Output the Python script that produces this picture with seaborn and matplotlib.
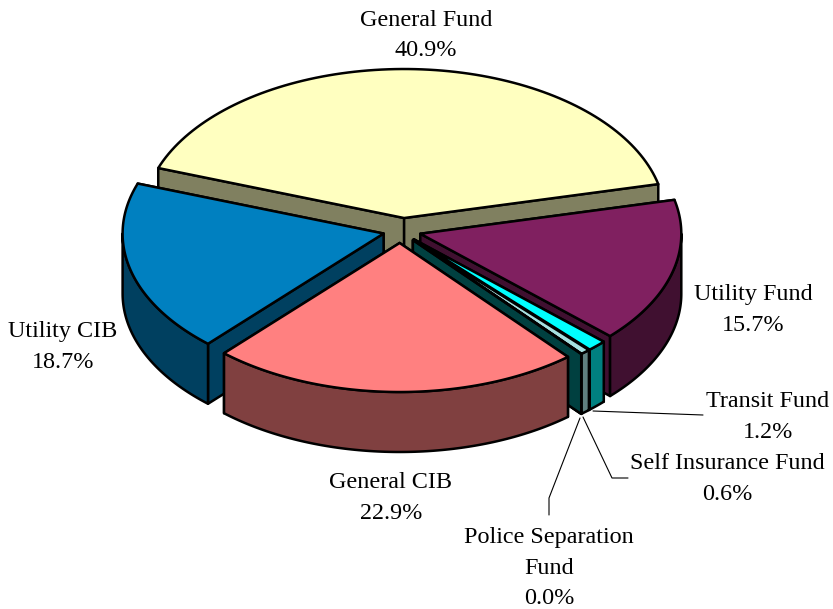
import numpy as np
import seaborn as sns
import matplotlib.pyplot as plt
from matplotlib.patches import Polygon

sns.set_style("white")
plt.rcParams['font.family'] = ['Liberation Serif', 'DejaVu Serif']

# kolejność zgodnie z ruchem wskazówek zegara, od góry
funds = ['General Fund', 'Utility Fund', 'Transit Fund', 'Self Insurance Fund',
         'Police Separation Fund', 'General CIB', 'Utility CIB']
shares = [40.9, 15.7, 1.2, 0.6, 0.0, 22.9, 18.7]
top_colors = ['#FFFFC0', '#802060', '#00FFFF', '#A6E0E0', '#004040', '#FF8080', '#0080C0']
side_colors = ['#808060', '#401030', '#008080', '#608080', '#004040', '#804040', '#004060']
draw_order = [0, 6, 1, 2, 3, 4, 5]

# geometria pie w pikselach
cx, cy = 403, 230.5
rx, ry = 261, 149
depth = 60
ex, ey = 20, 12.5
start_angle = 160.4
# drobne przesunięcia wycinków w poziomie
nudge = [0, -2, -3, -3, -3, -3, 0]


def arc(a0, a1, x0, y0, drop=0):
    t = np.radians(np.linspace(a0, a1, 100))
    return np.column_stack([x0 + rx * np.cos(t), y0 - ry * np.sin(t) + drop])


def draw_slice(ax, a0, a1, top, side, dx):
    mid = np.radians((a0 + a1) / 2)
    x0 = cx + ex * np.cos(mid) + dx
    y0 = cy - ey * np.sin(mid)
    kw = dict(edgecolor='black', linewidth=1.8, joinstyle='round')
    # ściany przy cięciach, tylna najpierw
    for a in sorted((a0, a1), key=lambda v: -np.sin(np.radians(v))):
        p = arc(a, a, x0, y0)[0]
        wall = [(x0, y0), p, (p[0], p[1] + depth), (x0, y0 + depth)]
        ax.add_patch(Polygon(wall, facecolor=side, **kw))
    # ściana zewnętrzna, tylko z przodu
    lo, hi = max(a1, -180), min(a0, 0)
    if lo < hi:
        rim = np.vstack([arc(hi, lo, x0, y0), arc(lo, hi, x0, y0, depth)])
        ax.add_patch(Polygon(rim, facecolor=side, **kw))
    face = np.vstack([[(x0, y0)], arc(a0, a1, x0, y0)])
    ax.add_patch(Polygon(face, facecolor=top, **kw))


fig = plt.figure(figsize=(8.33, 6.09), dpi=100)
ax = fig.add_axes([0, 0, 1, 1])
ax.set_xlim(0, 833)
ax.set_ylim(609, 0)
ax.axis('off')

edges = start_angle - np.cumsum([0] + shares) * 3.6
for i in draw_order:
    draw_slice(ax, edges[i], edges[i + 1], top_colors[i], side_colors[i], nudge[i])

# linie odniesienia
line_kw = dict(color='black', linewidth=0.8)
ax.plot([593, 703], [411, 415], **line_kw)
ax.plot([583, 612, 628], [417, 478, 478], **line_kw)
ax.plot([580, 549, 549], [418, 498, 515], **line_kw)

labels = [
    ('General Fund\n40.9%', 426, 35.5),
    ('Utility Fund\n15.7%', 753, 310),
    ('Transit Fund\n1.2%', 768, 417),
    ('Self Insurance Fund\n0.6%', 727.5, 479),
    ('Police Separation\nFund\n0.0%', 549, 568),
    ('General CIB\n22.9%', 391, 498),
    ('Utility CIB\n18.7%', 63, 347),
]
for text, x, y in labels:
    ax.text(x, y, text, ha='center', va='center', fontsize=17.4, linespacing=1.62, color='black')

fig.savefig('out.png', dpi=100)
